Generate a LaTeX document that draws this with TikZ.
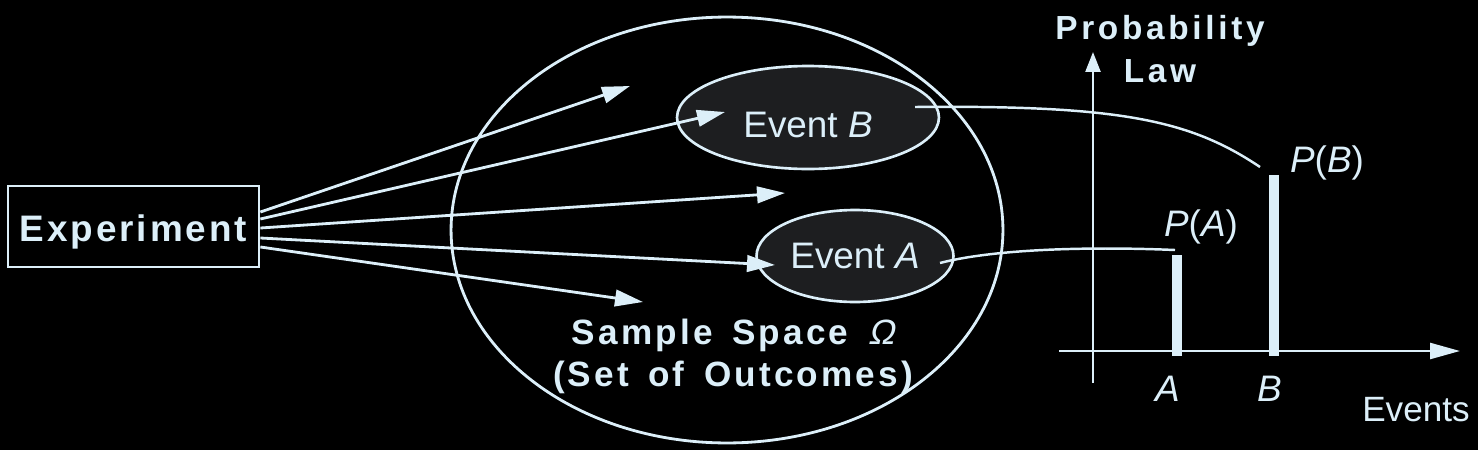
\documentclass[tikz,border=0pt]{standalone}
\usepackage{fontspec}
\setmainfont{Liberation Sans}
\newfontfamily\spacedfont{Liberation Sans}[LetterSpace=8]
\newfontfamily\widefont{Liberation Sans}[LetterSpace=9, WordSpace=1.5]
\newfontfamily\lawfont{Liberation Sans}[LetterSpace=11]
\newfontfamily\omegafont{Liberation Sans}[FakeSlant=0.22]
\usetikzlibrary{arrows.meta, positioning, shapes.geometric}
\definecolor{Chalk}{HTML}{DCEFF9}
\definecolor{EventFill}{HTML}{1D1E20}
\definecolor{Board}{HTML}{000000}

\begin{document}
\begin{tikzpicture}[x=0.02cm, y=-0.02cm,
box/.style={
	rectangle,
	draw = Chalk,
	line width = 1.6pt,
	minimum width = 5.02cm,
	minimum height = 1.62cm,
	text height = 0.6cm,
	text depth = 0cm,
	text = Chalk,
	font = \spacedfont\bfseries\fontsize{21}{25}\selectfont},
space/.style={
	ellipse,
	draw = Chalk,
	line width = 1.6pt,
	inner sep = 0mm,
	minimum width = 11.04cm,
	minimum height = 8.52cm},
event/.style={
	ellipse,
	draw = Chalk,
	fill = EventFill,
	line width = 1.5pt,
	inner sep = 0mm,
	text = Chalk,
	font = \fontsize{21}{25}\selectfont},
post/.style={
	-{Triangle[length=5.6mm, width=3.3mm]},
	draw,
	line width = 1.6pt,
	color = Chalk},
link/.style={
	draw,
	line width = 1.4pt,
	color = Chalk},
bar/.style={
	rectangle,
	fill = Chalk,
	inner sep = 0mm,
	anchor = south,
	minimum width = 0.2cm},
label/.style={
	text = Chalk,
	inner sep = 0mm,
	font = \fontsize{21}{25}\selectfont},
title/.style={
	text = Chalk,
	align = center,
	inner sep = 0mm,
	font = \widefont\bfseries\fontsize{20}{24}\selectfont}]

\fill[Board] (0,0) rectangle (1478,450);
\useasboundingbox (0,0) rectangle (1478,450);

%Experiment and sample space
\node[box] (Exp) at (133.5,226.5) {Experiment};
\node[space] (Omega) at (727,230) {};
\node[title] (OmegaText) at (733,356) {Sample Space {\omegafont\mdseries Ω}\\(Set of Outcomes)};

\node[event, minimum width = 5.24cm, minimum height = 2.06cm, text height = 0.8cm, text depth = 0cm] (EvB) at (808,117.5) {Event \textit{B}};
\node[event, minimum width = 3.94cm, minimum height = 1.84cm] (EvA) at (855,256) {Event \textit{A}};

\foreach \i/\sy/\tx/\ty in {1/212/630/86, 2/219/725/112, 3/228/785/193, 4/238/775/265, 5/247/643/302} {
	\coordinate (out\i) at (Exp.east |- 0,\sy);
	\coordinate (hit\i) at (\tx,\ty);
	\path[post] (out\i) to (hit\i);
}

%Probability law
\coordinate (yTop) at (1093,52);
\coordinate (yEnd) at (1093,383);
\coordinate (xEnd) at (1059,351);
\coordinate (xTip) at (1460,351);
\path[link, -{Triangle[length=4mm, width=3mm]}] (yEnd) to (yTop);
\path[link, -{Triangle[length=6mm, width=3.2mm]}] (xEnd) to (xTip);

\node[bar, minimum height = 2.02cm] (barA) at (1177,356) {};
\node[bar, minimum height = 3.62cm] (barB) at (1274,356) {};

\node[label] (PA) at (1201,227) {\textit{P}(\textit{A})};
\node[label] (PB) at (1327,163) {\textit{P}(\textit{B})};
\node[label, below = 4mm of barA.south, xshift = -0.18cm] (tickA) {\textit{A}};
\node[label, below = 4mm of barB.south, xshift = -0.08cm] (tickB) {\textit{B}};
\node[label, font = \fontsize{20}{24}\selectfont] (ev) at (1416,410) {Events};
\node[title, font = \lawfont\bfseries\fontsize{19}{24.5}\selectfont] (law) at (1160,49) {Probability\\Law};

\coordinate (linkB) at (915,107);
\coordinate (endB) at (1260,167);
\coordinate (linkA) at (940,263);
\coordinate (endA) at (1175,250);
\path[link] (linkB) .. controls (1120,105) and (1190,120) .. (endB);
\path[link] (linkA) .. controls (990,250) and (1080,246) .. (endA);
\end{tikzpicture}
\end{document}
